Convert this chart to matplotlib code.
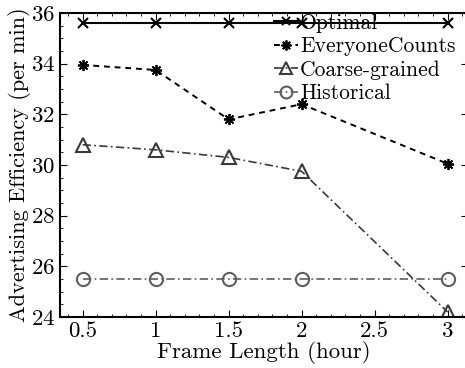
import matplotlib
matplotlib.use("Agg")
import matplotlib.pyplot as plt
from matplotlib.ticker import MultipleLocator

plt.rcParams['font.family'] = ['cmr10', 'DejaVu Serif']
plt.rcParams['axes.formatter.use_mathtext'] = True
plt.rcParams['mathtext.fontset'] = 'cm'

frame_len = [0.5, 1, 1.5, 2, 3]
optimal = [35.6, 35.6, 35.6, 35.6, 35.6]
everyone = [33.95, 33.75, 31.8, 32.4, 30.05]
coarse = [30.8, 30.6, 30.3, 29.75, 24.2]
historical = [25.5, 25.5, 25.5, 25.5, 25.5]

fig = plt.figure(figsize=(4.65, 3.68), dpi=100)
ax = fig.add_axes([60 / 465, 1 - 317 / 368, 408 / 465, 304 / 368])

ax.plot(frame_len, optimal, '-', color='black', lw=1.5, marker='x', ms=6.5, mew=1.5,
        label='Optimal')
ax.plot(frame_len, everyone, color='black', lw=1.4, ls=(0, (3, 2.5)), marker=(8, 2, 0),
        ms=8, mew=1.3, label='EveryoneCounts')
ax.plot(frame_len, coarse, color='#3a3a3a', lw=1.2, ls=(0, (5, 2, 1, 2)), marker='^',
        ms=9.5, mew=1.5, mfc='none', label='Coarse-grained')
ax.plot(frame_len, historical, color='#5e5e5e', lw=1.2, ls=(0, (5, 2, 1, 2)), marker='o',
        ms=9.5, mew=1.5, mfc='none', label='Historical')

ax.set_xlim(0.345, 3.14)
ax.set_ylim(24, 36)
ax.set_xticks([0.5, 1, 1.5, 2, 2.5, 3])
ax.set_xticklabels(['0.5', '1', '1.5', '2', '2.5', '3'])
ax.set_yticks([24, 26, 28, 30, 32, 34, 36])
ax.xaxis.set_minor_locator(MultipleLocator(0.1))
ax.yaxis.set_minor_locator(MultipleLocator(0.5))
ax.tick_params(which='both', direction='in', top=True, right=True, labelsize=16.5)
ax.tick_params(axis='x', pad=3)
ax.tick_params(which='major', length=5)
ax.tick_params(which='minor', length=2.5)
for s in ax.spines.values():
    s.set_linewidth(1.5)

ax.set_xlabel('Frame Length (hour)', fontsize=16.5, labelpad=0)
ax.set_ylabel('Advertising Efficiency (per min)', fontsize=16, labelpad=0)

ax.legend(loc='upper right', bbox_to_anchor=(0.985, 1.02), frameon=False, fontsize=15.5,
          handlelength=1.1, handletextpad=0.1, labelspacing=0.18, borderaxespad=0.0,
          borderpad=0.3, markerscale=0.9)

fig.savefig('out.png', dpi=100)
